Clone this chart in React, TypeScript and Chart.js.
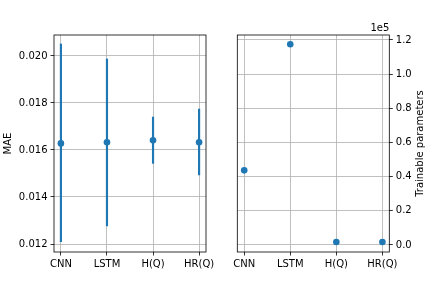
import React, { useEffect, useRef } from "react";
import { Chart, registerables } from "chart.js";

Chart.register(...registerables);

const categories = ["CNN", "LSTM", "H(Q)", "HR(Q)"];
const maeMean = [0.01628, 0.01633, 0.01641, 0.01633];
const maeLow = [0.0121, 0.01277, 0.01543, 0.01494];
const maeHigh = [0.02051, 0.01987, 0.0174, 0.01774];
const maeTicks = [0.012, 0.014, 0.016, 0.018, 0.02];
const trainableParams = [43700, 117500, 1760, 1760];
const paramTicks = [0, 20000, 40000, 60000, 80000, 100000, 120000];
const paramOffsetLabel = "1e5";
const maeTitle = "MAE";
const paramTitle = "Trainable parameters";

const BLUE = "#1f77b4";
const FONT = { family: "'DejaVu Sans', sans-serif", size: 10 };

const boxPlugin = {
  id: "box",
  afterDraw(chart: any) {
    const { ctx, chartArea: a } = chart;
    ctx.save();
    ctx.strokeStyle = "#000";
    ctx.lineWidth = 0.8;
    ctx.strokeRect(a.left, a.top, a.right - a.left, a.bottom - a.top);
    ctx.restore();
  },
};

const gridOpts = {
  color: "#b0b0b0",
  lineWidth: 0.8,
  tickColor: "#000",
  tickLength: 3.5,
  tickWidth: 0.8,
  offset: false,
};

function xScale() {
  return {
    type: "linear" as const,
    min: -0.15,
    max: 3.15,
    offset: false,
    bounds: "data",
    afterFit: (s: any) => {
      s.height = 36;
      s.paddingLeft = 0;
      s.paddingRight = 0;
    },
    afterBuildTicks: (s: any) => {
      s.ticks = categories.map((_, i) => ({ value: i }));
    },
    border: { display: false },
    grid: gridOpts,
    ticks: {
      autoSkip: false,
      maxRotation: 0,
      padding: 3,
      color: "#000",
      font: FONT,
      callback: (v: any) => categories[v] ?? "",
    },
  };
}

function LeftChart() {
  const ref = useRef<HTMLCanvasElement>(null);
  useEffect(() => {
    const chart = new Chart(ref.current!, {
      type: "scatter",
      data: {
        datasets: [
          {
            type: "bar" as any,
            data: categories.map((_, i) => ({ x: i, y: [maeLow[i], maeHigh[i]] })) as any,
            backgroundColor: BLUE,
            barThickness: 1.5,
            borderWidth: 0,
          },
          {
            type: "scatter",
            data: categories.map((_, i) => ({ x: i, y: maeMean[i] })),
            backgroundColor: BLUE,
            borderWidth: 0,
            pointRadius: 3.3,
          },
        ],
      },
      options: {
        responsive: false,
        animation: false,
        events: [],
        layout: { padding: { left: 0, top: 35, right: 10, bottom: 0 } },
        plugins: { legend: { display: false }, tooltip: { enabled: false } },
        scales: {
          x: xScale() as any,
          y: {
            type: "linear",
            position: "left",
            min: 0.01166,
            max: 0.02089,
            bounds: "data",
            afterFit: (s: any) => {
              s.width = 54;
              s.paddingTop = 0;
              s.paddingBottom = 0;
            },
            afterBuildTicks: (s: any) => {
              s.ticks = maeTicks.map((v) => ({ value: v }));
            },
            border: { display: false },
            grid: gridOpts,
            title: {
              display: true,
              text: maeTitle,
              color: "#000",
              font: FONT,
              padding: { top: 2, bottom: 0 },
            },
            ticks: {
              padding: 3,
              color: "#000",
              font: FONT,
              callback: (v: any) => Number(v).toFixed(3),
            },
          },
        },
      },
      plugins: [boxPlugin],
    });
    return () => chart.destroy();
  }, []);
  return (
    <canvas
      ref={ref}
      width={216}
      height={288}
      style={{ position: "absolute", left: 0, top: 0, width: 216, height: 288 }}
    />
  );
}

const rightDecor = {
  id: "rightDecor",
  afterDraw(chart: any) {
    const { ctx, chartArea: a, width } = chart;
    ctx.save();
    ctx.fillStyle = "#000";
    ctx.font = "10px 'DejaVu Sans', sans-serif";
    ctx.textAlign = "right";
    ctx.textBaseline = "bottom";
    ctx.fillText(paramOffsetLabel, a.right, a.top - 2);
    ctx.translate(width - 12, (a.top + a.bottom) / 2);
    ctx.rotate(-Math.PI / 2);
    ctx.textAlign = "center";
    ctx.textBaseline = "middle";
    ctx.fillText(paramTitle, 0, 0);
    ctx.restore();
  },
};

function RightChart() {
  const ref = useRef<HTMLCanvasElement>(null);
  useEffect(() => {
    const chart = new Chart(ref.current!, {
      type: "scatter",
      data: {
        datasets: [
          {
            data: categories.map((_, i) => ({ x: i, y: trainableParams[i] })),
            backgroundColor: BLUE,
            borderWidth: 0,
            pointRadius: 3.3,
          },
        ],
      },
      options: {
        responsive: false,
        animation: false,
        events: [],
        layout: { padding: { left: 21.3, top: 35, right: 0, bottom: 0 } },
        plugins: { legend: { display: false }, tooltip: { enabled: false } },
        scales: {
          x: xScale() as any,
          y: {
            type: "linear",
            position: "right",
            min: -4100,
            max: 122900,
            bounds: "data",
            afterFit: (s: any) => {
              s.width = 42.7;
              s.paddingTop = 0;
              s.paddingBottom = 0;
            },
            afterBuildTicks: (s: any) => {
              s.ticks = paramTicks.map((v) => ({ value: v }));
            },
            border: { display: false },
            grid: gridOpts,
            ticks: {
              padding: 3,
              color: "#000",
              font: FONT,
              callback: (v: any) => (Number(v) / 1e5).toFixed(1),
            },
          },
        },
      },
      plugins: [boxPlugin, rightDecor],
    });
    return () => chart.destroy();
  }, []);
  return (
    <canvas
      ref={ref}
      width={216}
      height={288}
      style={{ position: "absolute", left: 216, top: 0, width: 216, height: 288 }}
    />
  );
}

export default function App() {
  return (
    <div
      style={{
        position: "fixed",
        left: 0,
        top: 0,
        width: 432,
        height: 288,
        background: "#fff",
      }}
    >
      <LeftChart />
      <RightChart />
    </div>
  );
}
